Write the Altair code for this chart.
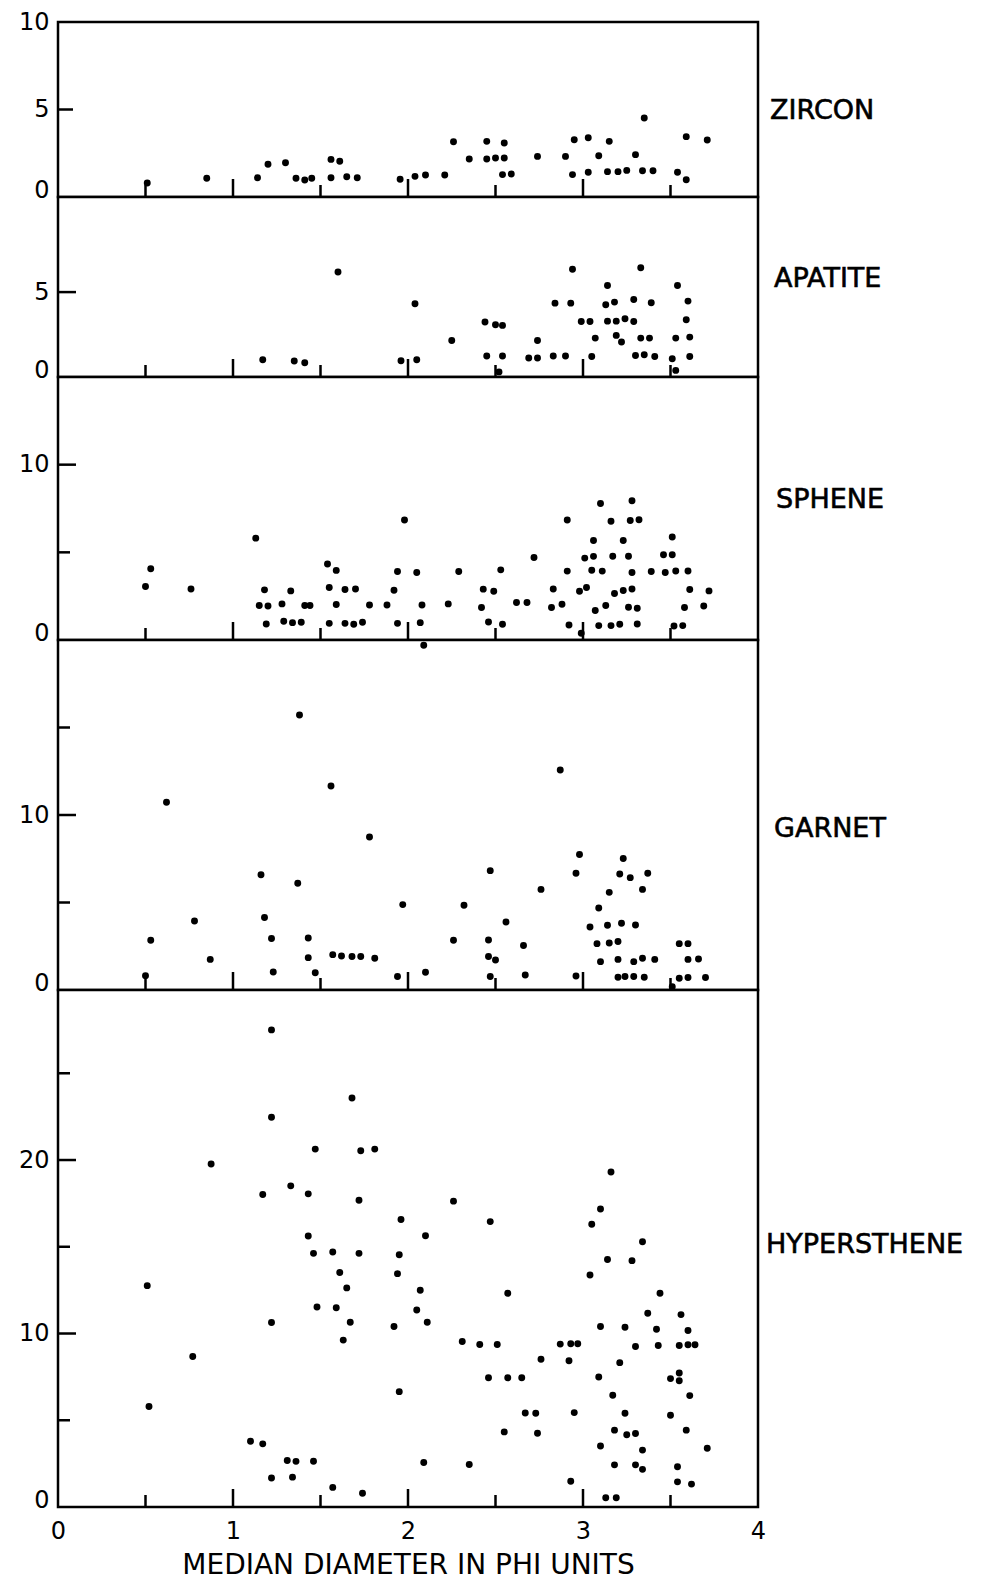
import altair as alt
import pandas as pd

FONT = "DejaVu Sans"
W = 700

# ---------------- data ----------------
zircon_x = [0.51, 0.85, 1.14, 1.20, 1.30, 1.36, 1.41, 1.45, 1.56, 1.61, 1.56, 1.65, 1.71, 1.955, 2.04,
            2.10, 2.21, 2.26, 2.35, 2.45, 2.45, 2.50, 2.54, 2.55, 2.55, 2.59, 2.74, 2.90, 2.95, 3.03,
            3.15, 2.94, 3.03, 3.09, 3.14, 3.20, 3.25, 3.30, 3.34, 3.40, 3.35, 3.54, 3.59, 3.59, 3.71]
zircon_y = [0.8, 1.07, 1.1, 1.87, 1.96, 1.07, 0.97, 1.07, 2.15, 2.04, 1.1, 1.16, 1.1, 1.01, 1.18,
            1.26, 1.26, 3.16, 2.17, 3.18, 2.17, 2.23, 1.28, 3.09, 2.23, 1.31, 2.32, 2.32, 3.27, 3.39,
            3.18, 1.28, 1.41, 2.36, 1.45, 1.45, 1.52, 2.42, 1.50, 1.50, 4.51, 1.41, 0.99, 3.45, 3.26]

apatite_x = [1.17, 1.35, 1.41, 1.60, 1.96, 2.05, 2.04, 2.25, 2.44, 2.50, 2.54, 2.45, 2.54, 2.52, 2.74,
             2.69, 2.74, 2.83, 2.90, 2.84, 2.93, 2.94, 2.99, 3.04, 3.05, 3.07, 3.14, 3.13, 3.18, 3.14,
             3.19, 3.24, 3.29, 3.19, 3.22, 3.29, 3.33, 3.39, 3.33, 3.38, 3.30, 3.35, 3.41, 3.54, 3.60,
             3.59, 3.53, 3.61, 3.51, 3.61, 3.53]
apatite_y = [1.02, 0.94, 0.84, 6.18, 0.96, 1.02, 4.31, 2.15, 3.24, 3.08, 3.04, 1.24, 1.24, 0.3, 2.15,
             1.12, 1.12, 1.24, 1.24, 4.35, 4.35, 6.35, 3.27, 3.27, 1.21, 2.29, 5.39, 4.25, 4.41, 3.29,
             3.29, 3.43, 3.27, 2.45, 2.06, 4.56, 6.43, 4.37, 2.29, 2.29, 1.27, 1.31, 1.21, 5.39, 4.47,
             3.37, 2.29, 2.35, 1.08, 1.21, 0.39]

sphene_x = [0.50, 0.53, 0.76, 1.13, 1.15, 1.18, 1.20, 1.19, 1.28, 1.29, 1.33, 1.34, 1.39, 1.41, 1.44,
            1.54, 1.55, 1.59, 1.59, 1.55, 1.64, 1.70, 1.64, 1.69, 1.74, 1.78, 1.88, 1.92, 1.94, 1.94,
            1.98, 2.05, 2.08, 2.07, 2.23, 2.29, 2.42, 2.43, 2.46, 2.49, 2.53, 2.54, 2.62, 2.68, 2.72,
            2.83, 2.82, 2.88, 2.91, 2.91, 2.92, 2.98, 3.02, 3.01, 3.06, 3.06, 3.05, 3.11, 3.07, 3.13,
            2.99, 3.09, 3.16, 3.21, 3.10, 3.16, 3.17, 3.18, 3.23, 3.28, 3.23, 3.27, 3.32, 3.28, 3.26,
            3.28, 3.26, 3.31, 3.31, 3.39, 3.47, 3.53, 3.60, 3.46, 3.51, 3.51, 3.61, 3.72, 3.58, 3.69,
            3.52, 3.57]
sphene_y = [3.05, 4.06, 2.91, 5.81, 1.97, 2.86, 1.94, 0.91, 2.06, 1.07, 2.80, 0.99, 1.01, 1.97, 1.97,
            4.33, 2.99, 3.97, 2.02, 0.95, 2.88, 2.91, 0.95, 0.90, 1.01, 2.00, 2.00, 2.84, 3.91, 0.95,
            6.84, 3.85, 2.00, 0.99, 2.06, 3.91, 1.85, 2.90, 1.03, 2.78, 4.00, 0.90, 2.14, 2.14, 4.71,
            2.91, 1.85, 2.04, 6.84, 3.93, 0.86, 2.78, 2.99, 4.67, 4.77, 5.68, 3.98, 3.93, 1.68, 1.97,
            0.38, 0.82, 0.82, 0.90, 7.79, 6.77, 4.78, 2.65, 2.82, 2.91, 5.68, 6.82, 6.86, 7.94, 4.78,
            3.85, 1.87, 1.81, 0.91, 3.91, 3.85, 3.94, 3.94, 4.86, 4.86, 5.87, 2.88, 2.80, 1.85, 1.94,
            0.80, 0.82]

garnet_x = [0.50, 0.53, 0.62, 0.78, 0.87, 1.16, 1.18, 1.22, 1.23, 1.38, 1.37, 1.43, 1.43, 1.47, 1.56,
            1.57, 1.62, 1.68, 1.73, 1.81, 1.78, 1.94, 1.97, 2.10, 2.09, 2.26, 2.32, 2.47, 2.46, 2.46,
            2.50, 2.47, 2.56, 2.66, 2.67, 2.76, 2.87, 2.98, 2.96, 2.96, 3.09, 3.15, 3.04, 3.14, 3.22,
            3.30, 3.08, 3.15, 3.20, 3.10, 3.20, 3.29, 3.34, 3.41, 3.20, 3.24, 3.29, 3.35, 3.23, 3.21,
            3.27, 3.37, 3.34, 3.55, 3.60, 3.60, 3.66, 3.55, 3.60, 3.70, 3.51]
garnet_y = [0.82, 2.84, 10.73, 3.94, 1.75, 6.59, 4.14, 2.94, 1.03, 15.71, 6.10, 2.97, 1.85, 0.99, 11.66,
            2.02, 1.94, 1.91, 1.91, 1.81, 8.74, 0.77, 4.88, 1.01, 19.7, 2.84, 4.84, 6.82, 2.86, 1.91,
            1.71, 0.77, 3.89, 2.54, 0.86, 5.75, 12.57, 7.74, 6.67, 0.80, 4.69, 5.58, 3.60, 3.70, 3.81,
            3.71, 2.65, 2.69, 2.77, 1.62, 1.75, 1.62, 1.81, 1.75, 0.73, 0.77, 0.77, 0.73, 7.51, 6.63,
            6.42, 6.67, 5.75, 2.65, 2.65, 1.75, 1.77, 0.67, 0.71, 0.71, 0.19]

hyper_x = [1.22, 1.68, 1.22, 1.47, 1.73, 1.81, 0.875, 1.33, 1.17, 1.43, 1.72, 2.26, 1.96, 2.47, 1.43,
           2.10, 1.46, 1.57, 1.72, 1.95, 1.61, 1.94, 0.51, 1.65, 2.07, 3.16, 3.10, 3.05, 3.34, 3.14,
           3.28, 3.04, 2.57, 3.44, 1.48, 1.59, 1.22, 1.67, 1.63, 1.92, 2.05, 2.11, 0.77, 2.31, 2.41,
           2.51, 2.46, 2.57, 1.95, 0.52, 2.55, 1.10, 1.17, 1.31, 1.36, 1.46, 2.09, 2.35, 1.22, 1.34,
           1.57, 1.74, 3.37, 3.56, 3.10, 3.24, 3.42, 3.60, 2.87, 2.93, 2.97, 3.30, 3.43, 3.55, 3.60,
           3.64, 2.76, 2.92, 3.21, 2.65, 3.09, 3.50, 3.55, 3.55, 3.17, 3.61, 2.67, 2.73, 2.95, 3.24,
           3.50, 2.74, 3.18, 3.25, 3.30, 3.59, 3.10, 3.34, 3.71, 3.18, 3.30, 3.34, 3.54, 2.93, 3.54,
           3.62, 3.13, 3.19]
hyper_y = [27.5, 23.58, 22.47, 20.63, 20.53, 20.63, 19.77, 18.51, 18.01, 18.05, 17.68, 17.63, 16.57,
           16.45, 15.62, 15.63, 14.62, 14.70, 14.62, 14.54, 13.52, 13.45, 12.76, 12.63, 12.49, 19.31,
           17.18, 16.30, 15.29, 14.27, 14.20, 13.37, 12.32, 12.32, 11.53, 11.48, 10.63, 10.65, 9.62,
           10.40, 11.36, 10.65, 8.68, 9.54, 9.37, 9.37, 7.45, 7.45, 6.65, 5.79, 4.33, 3.79, 3.64, 2.68,
           2.63, 2.64, 2.57, 2.45, 1.67, 1.72, 1.13, 0.79, 11.17, 11.09, 10.40, 10.36, 10.25, 10.17,
           9.39, 9.41, 9.41, 9.25, 9.31, 9.31, 9.35, 9.35, 8.52, 8.43, 8.32, 7.45, 7.49, 7.40, 7.72,
           7.28, 6.44, 6.42, 5.42, 5.40, 5.44, 5.40, 5.29, 4.25, 4.43, 4.16, 4.24, 4.43, 3.52, 3.28,
           3.39, 2.43, 2.43, 2.17, 2.32, 1.48, 1.45, 1.32, 0.53, 0.53]

mineral_names = ["ZIRCON", "APATITE", "SPHENE", "GARNET", "HYPERSTHENE"]
y_max = [10, 10.6, 15, 20, 29.8]
y_labels = [[0, 5, 10], [0, 5], [0, 10], [0, 10], [0, 10, 20]]
y_major_ticks = [[5], [5], [10], [10], [10, 20]]
y_minor_ticks = [[], [], [5], [5, 15], [5, 15, 25]]
name_at = [4.9, 5.8, 8.0, 9.2, 15.1]
x_major_ticks = [1, 2, 3]
x_minor_ticks = [0.5, 1.5, 2.5, 3.5]
x_labels = [0, 1, 2, 3, 4]
x_title = "MEDIAN DIAMETER IN PHI UNITS"

# layout-only settings
heights = [175, 180, 263, 350, 517]
name_dx = [712, 716, 718, 716, 708]
major_len_y = [15, 18, 18, 18, 18]

series = [(zircon_x, zircon_y), (apatite_x, apatite_y), (sphene_x, sphene_y),
          (garnet_x, garnet_y), (hyper_x, hyper_y)]

xscale = alt.Scale(domain=[0, 4], nice=False, zero=False)


def panel(i, bottom):
    xs, ys = series[i]
    h = heights[i]
    yscale = alt.Scale(domain=[0, y_max[i]], nice=False, zero=False)
    yaxis = alt.Axis(values=y_labels[i], ticks=False, domain=False, grid=False, title=None,
                     labelFont=FONT, labelFontSize=24, labelColor="black",
                     labelPadding=9, minExtent=48, maxExtent=48, format="d",
                     labelBaseline={"condition": {"test": "datum.value == 0", "value": "alphabetic"},
                                    "value": "middle"})
    if bottom:
        xaxis = alt.Axis(values=x_labels, ticks=False, domain=False, grid=False, format="d",
                         labelFont=FONT, labelFontSize=24, labelColor="black",
                         labelPadding=12, labelFlush=False, title=x_title, titleFont=FONT,
                         titleFontSize=28, titleFontWeight="normal", titleColor="black", titlePadding=8)
    else:
        xaxis = None

    X = lambda f: alt.X(f, scale=xscale, axis=xaxis)
    Y = lambda f: alt.Y(f, scale=yscale, axis=yaxis)

    pts = alt.Chart(pd.DataFrame({"x": xs, "v": ys})).mark_circle(
        size=48, color="black", opacity=1).encode(x=X("x:Q"), y=Y("v:Q"))

    layers = [pts]
    for ticks, ln in ((x_major_ticks, 18), (x_minor_ticks, 12)):
        layers.append(alt.Chart(pd.DataFrame({"x": ticks})).mark_rule(
            color="black", strokeWidth=2.5).encode(
            x=X("x:Q"), y=alt.value(h), y2=alt.value(h - ln)))
    for ticks, ln in ((y_major_ticks[i], major_len_y[i]), (y_minor_ticks[i], 12)):
        if ticks:
            layers.append(alt.Chart(pd.DataFrame({"v": ticks})).mark_rule(
                color="black", strokeWidth=2.5).encode(
                y=Y("v:Q"), x=alt.value(0), x2=alt.value(ln)))
    layers.append(alt.Chart(pd.DataFrame({"name": [mineral_names[i]], "v": [name_at[i]]})).mark_text(
        align="left", baseline="middle", font=FONT, fontSize=27, color="black",
        stroke="black", strokeWidth=0.6).encode(
        x=alt.value(name_dx[i]), y=Y("v:Q"), text="name:N"))
    return alt.layer(*layers).properties(width=W, height=h)


chart = alt.vconcat(*[panel(i, i == 4) for i in range(5)], spacing=0, bounds="flush").properties(
    padding={"left": 0, "top": 0, "right": 0, "bottom": 0},
    background="white",
).configure_view(stroke="black", strokeWidth=2.5, fill="white")

chart.save("out.html", embed_options={"renderer": "svg", "actions": False})
